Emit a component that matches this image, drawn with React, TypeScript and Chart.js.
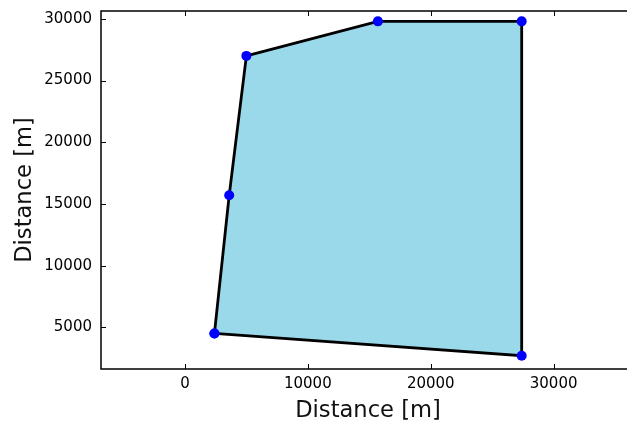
import React, { useEffect, useRef } from "react";
import { Chart, registerables } from "chart.js";

Chart.register(...registerables);

// Polygon vertices (closed: last repeats first)
const xValues = [2400, 3600, 5000, 15700, 27400, 27400, 2400];
const yValues = [4500, 15700, 27000, 29800, 29800, 2700, 4500];
const xTicks = [0, 10000, 20000, 30000];
const yTicks = [5000, 10000, 15000, 20000, 25000, 30000];
const xLimits = [-6830, 36620];
const yLimits = [1620, 30640];
const axisTitle = "Distance [m]";

const FONT = "'DejaVu Sans', sans-serif";

const framePlugin = {
  id: "frame",
  afterDraw(chart: any) {
    const { ctx, chartArea: a, scales } = chart;
    ctx.save();
    ctx.strokeStyle = "#000";
    ctx.lineWidth = 1;
    ctx.beginPath();
    for (const v of xTicks) {
      const px = Math.round(scales.x.getPixelForValue(v)) + 0.5;
      ctx.moveTo(px, a.bottom);
      ctx.lineTo(px, a.bottom - 5);
      ctx.moveTo(px, a.top);
      ctx.lineTo(px, a.top + 5);
    }
    for (const v of yTicks) {
      const py = Math.round(scales.y.getPixelForValue(v)) + 0.5;
      ctx.moveTo(a.left, py);
      ctx.lineTo(a.left + 5, py);
      ctx.moveTo(a.right, py);
      ctx.lineTo(a.right - 5, py);
    }
    ctx.stroke();
    ctx.lineWidth = 1.5;
    ctx.strokeRect(a.left, a.top, a.right - a.left, a.bottom - a.top);
    ctx.restore();
  },
};

export default function App() {
  const ref = useRef<HTMLCanvasElement | null>(null);
  useEffect(() => {
    if (!ref.current) return;
    const chart = new Chart(ref.current, {
      type: "scatter",
      data: {
        datasets: [
          {
            data: xValues.map((x, i) => ({ x, y: yValues[i] })),
            showLine: true,
            fill: "shape",
            tension: 0,
            backgroundColor: "rgb(154,217,234)",
            borderColor: "#000",
            borderWidth: 2.8,
            pointRadius: 5,
            pointHoverRadius: 5,
            pointBackgroundColor: "#0000ff",
            pointBorderWidth: 0,
          } as any,
        ],
      },
      options: {
        responsive: false,
        animation: false,
        devicePixelRatio: 1,
        layout: { padding: { top: 11, right: 4, left: 0, bottom: 0 } },
        plugins: { legend: { display: false }, tooltip: { enabled: false } },
        scales: {
          x: {
            type: "linear",
            min: xLimits[0],
            max: xLimits[1],
            grid: { display: false, drawTicks: false },
            border: { display: false },
            afterBuildTicks: (s: any) => {
              s.ticks = xTicks.map((v) => ({ value: v }));
            },
            afterFit: (s: any) => {
              s.height = 56;
              s.paddingLeft = 0;
              s.paddingRight = 0;
            },
            ticks: {
              padding: 6,
              color: "#000",
              font: { family: FONT, size: 15 },
              maxRotation: 0,
              callback: (v: any) => String(v),
            },
            title: {
              display: true,
              text: axisTitle,
              color: "#111",
              font: { family: FONT, size: 22.6 },
              padding: { top: 0, bottom: 0 },
            },
          },
          y: {
            type: "linear",
            min: yLimits[0],
            max: yLimits[1],
            grid: { display: false, drawTicks: false },
            border: { display: false },
            afterBuildTicks: (s: any) => {
              s.ticks = yTicks.map((v) => ({ value: v }));
            },
            afterFit: (s: any) => {
              s.width = 101;
              s.paddingTop = 0;
              s.paddingBottom = 0;
            },
            ticks: {
              padding: 9,
              color: "#000",
              font: { family: FONT, size: 15 },
              callback: (v: any) => String(v),
            },
            title: {
              display: true,
              text: axisTitle,
              color: "#111",
              font: { family: FONT, size: 22.6 },
              padding: { top: 12, bottom: 0 },
            },
          },
        },
      },
      plugins: [framePlugin],
    });
    return () => chart.destroy();
  }, []);

  return (
    <div
      style={{
        position: "absolute",
        left: 0,
        top: 0,
        width: 627,
        height: 425,
        overflow: "hidden",
        background: "#fff",
      }}
    >
      <canvas ref={ref} width={640} height={425} style={{ display: "block" }} />
    </div>
  );
}
